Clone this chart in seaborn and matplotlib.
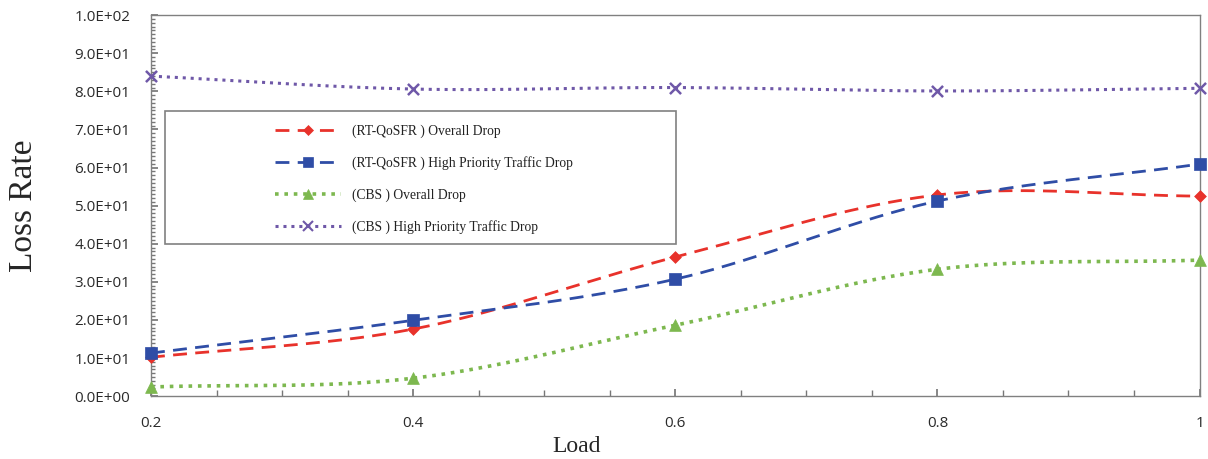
import numpy as np
import pandas as pd
import seaborn as sns
import matplotlib
matplotlib.use("Agg")
import matplotlib.pyplot as plt
from matplotlib.lines import Line2D
from matplotlib.patches import Rectangle
from matplotlib.ticker import MultipleLocator, FuncFormatter

load = [0.2, 0.4, 0.6, 0.8, 1.0]
rt_overall = [10.2, 17.6, 36.5, 52.8, 52.5]
rt_high = [11.3, 19.9, 30.7, 51.2, 60.9]
cbs_overall = [2.4, 4.7, 18.6, 33.3, 35.7]
cbs_high = [84.0, 80.6, 81.0, 80.1, 80.8]
series_names = ["(RT-QoSFR ) Overall Drop",
                "(RT-QoSFR ) High Priority Traffic Drop",
                "(CBS ) Overall Drop",
                "(CBS ) High Priority Traffic Drop"]
y_ticks = [0, 10, 20, 30, 40, 50, 60, 70, 80, 90, 100]
x_ticks = [0.2, 0.4, 0.6, 0.8, 1.0]
x_tick_labels = ["0.2", "0.4", "0.6", "0.8", "1"]

sns.set_theme(style="white")
plt.rcParams['font.family'] = ['Liberation Serif', 'DejaVu Serif']

def smooth(xs, ys, n=40):
    xs = np.asarray(xs, float); ys = np.asarray(ys, float)
    px = np.concatenate([[2*xs[0]-xs[1]], xs, [2*xs[-1]-xs[-2]]])
    py = np.concatenate([[2*ys[0]-ys[1]], ys, [2*ys[-1]-ys[-2]]])
    ox, oy = [], []
    t = np.linspace(0, 1, n)
    for i in range(1, len(px)-2):
        p0, p1, p2, p3 = [np.array([px[j], py[j]]) for j in (i-1, i, i+1, i+2)]
        c1 = p1 + (p2 - p0)/6
        c2 = p2 - (p3 - p1)/6
        b = ((1-t)**3)[:, None]*p1 + (3*(1-t)**2*t)[:, None]*c1 + (3*(1-t)*t**2)[:, None]*c2 + (t**3)[:, None]*p2
        ox.extend(b[:, 0]); oy.extend(b[:, 1])
    return np.array(ox), np.array(oy)

fig, ax = plt.subplots(figsize=(12.08, 4.59), dpi=100)
fig.subplots_adjust(left=0.125, right=0.993, top=0.967, bottom=0.137)

styles = [
    dict(color="#E8322B", ls=(0, (5, 3)), lw=2.0, marker="D", ms=6),
    dict(color="#2F4DA6", ls=(0, (5, 3)), lw=2.0, marker="s", ms=8.5),
    dict(color="#7DB84F", ls=(0, (1, 1.6)), lw=2.6, marker="^", ms=8.5),
    dict(color="#6F58A8", ls=(0, (1, 1.6)), lw=2.2, marker="x", ms=8),
]
all_series = [rt_overall, rt_high, cbs_overall, cbs_high]
handles = []
for name, vals, st in zip(series_names, all_series, styles):
    sx, sy = smooth(load, vals)
    sns.lineplot(x=sx, y=sy, ax=ax, color=st["color"], linewidth=st["lw"], sort=False)
    ax.lines[-1].set_linestyle(st["ls"])
    df = pd.DataFrame({"x": load, "y": vals})
    sns.scatterplot(data=df, x="x", y="y", ax=ax, marker=st["marker"], s=st["ms"]**2,
                    color=st["color"], edgecolor=st["color"] if st["marker"] != "x" else None,
                    linewidth=1.8 if st["marker"] == "x" else 0.5, zorder=5, clip_on=False)
    handles.append(Line2D([], [], color=st["color"], ls=st["ls"], lw=st["lw"],
                          marker=st["marker"], ms=st["ms"]*0.85,
                          mew=1.5 if st["marker"] == "x" else 0.5))

ax.set_xlim(0.2, 1.0)
ax.set_ylim(0, 100)
ax.set_xticks(x_ticks)
ax.set_xticklabels(x_tick_labels)
ax.set_yticks(y_ticks)
ax.yaxis.set_major_formatter(FuncFormatter(lambda v, p: f"{v:.1E}"))
ax.xaxis.set_minor_locator(MultipleLocator(0.05))
ax.yaxis.set_minor_locator(MultipleLocator(1))
ax.tick_params(axis="both", which="both", direction="in", color="#777777")
ax.tick_params(axis="x", which="major", length=5, pad=14)
ax.tick_params(axis="x", which="minor", length=4)
ax.tick_params(axis="y", which="major", length=5, pad=15)
ax.tick_params(axis="y", which="minor", length=3)
ax.tick_params(left=True, bottom=True, which="both")
for lab in ax.get_xticklabels() + ax.get_yticklabels():
    lab.set_family(["Open Sans", "DejaVu Sans"])
    lab.set_fontsize(11)
    lab.set_color("#2a2a2a")
for sp in ax.spines.values():
    sp.set_color("#808080")
    sp.set_linewidth(1.0)

ax.set_xlabel("Load", fontsize=17)
ax.xaxis.set_label_coords(0.406, -0.105)
ax.set_ylabel("Loss Rate", fontsize=24)
ax.yaxis.set_label_coords(-0.107, 0.5)

ax.add_patch(Rectangle((0.0133, 0.399), 0.487, 0.349, transform=ax.transAxes,
                       fill=False, edgecolor="#808080", lw=1.2, zorder=6))
leg = ax.legend(handles, series_names, loc="upper left", bbox_to_anchor=(0.107, 0.745),
                frameon=False, fontsize=9.8, handlelength=4.85, handletextpad=0.8,
                labelspacing=1.33)
for txt in leg.get_texts():
    txt.set_color("#222222")

fig.savefig("out.png", dpi=100)
